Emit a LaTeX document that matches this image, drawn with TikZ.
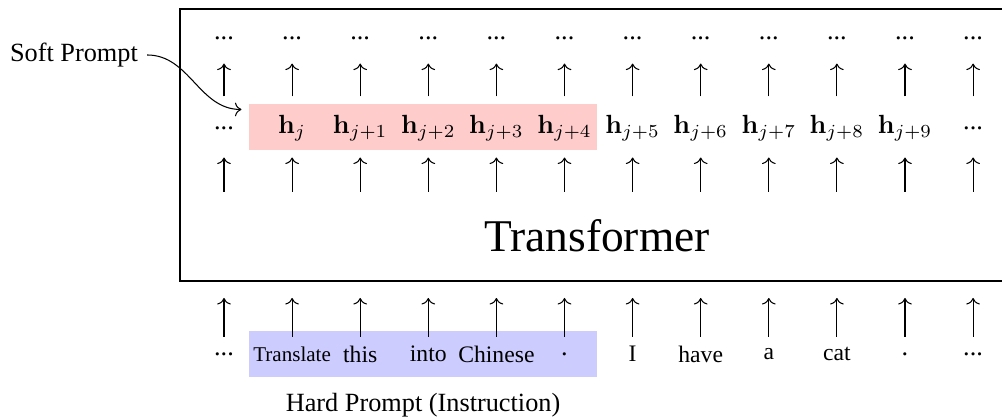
\documentclass[tikz,border=0pt]{standalone}
\usepackage[no-math]{fontspec}
\setmainfont{Liberation Serif}
\usepackage{amsmath}
\usetikzlibrary{positioning, arrows.meta, calc}

\begin{document}
\begin{tikzpicture}
    \tikzset{
        token/.style={inner sep=1pt, minimum height=0.45cm, anchor=center},
        prompt box/.style={minimum width=4.653cm, minimum height=0.615cm, inner sep=0pt, draw=none},
        word/.style={token, font=\small}
    }
    \useasboundingbox (0,0) rectangle (13.397,-5.589);

    % prompt highlights
    \node[prompt box, fill=red!20] (softbox) at (5.656,-1.698) {};
    \node[prompt box, fill=blue!20] (hardbox) at (5.656,-4.733) {};

    % transformer block
    \node[draw, thick, minimum width=11.16cm, minimum height=3.637cm, inner sep=0pt] (encoder) at (7.987,-1.938) {};
    \node[font=\LARGE] (enclabel) at (7.982,-3.155) {Transformer};

    \foreach \i/\h/\w in {1/{...}/{\normalsize ...},
                          2/{$\mathbf{h}_j$}/{\footnotesize Translate},
                          3/{$\mathbf{h}_{j+1}$}/{this},
                          4/{$\mathbf{h}_{j+2}$}/{into},
                          5/{$\mathbf{h}_{j+3}$}/{Chinese},
                          6/{$\mathbf{h}_{j+4}$}/{\normalsize .},
                          7/{$\mathbf{h}_{j+5}$}/{I},
                          8/{$\mathbf{h}_{j+6}$}/{have},
                          9/{$\mathbf{h}_{j+7}$}/{a},
                          10/{$\mathbf{h}_{j+8}$}/{cat},
                          11/{$\mathbf{h}_{j+9}$}/{\normalsize .},
                          12/{...}/{\normalsize ...}} {
        \pgfmathsetmacro{\xx}{2.995+(\i-1)*0.9105}
        \node[token] (top-\i) at (\xx,-0.508) {...};
        \node[token] (hid-\i) at (\xx,-1.711) {\h};
        \node[word] (in-\i) at (\xx,-4.733) {\w};
        \coordinate (mid-\i) at (\xx,-2.567);
        \coordinate (out-\i) at (\xx,-3.984);
        \draw[->, shorten <=0.19cm, shorten >=0.11cm] (hid-\i) -- (top-\i);
        \draw[->, shorten >=0.163cm] (mid-\i) -- (hid-\i);
        \draw[->] (in-\i) -- (out-\i);
    }

    % labels
    \node (softlabel) at (0.989,-0.735) {Soft Prompt};
    \draw[->] (softlabel.east) to[out=0, in=180] ([shift={(-0.094,-0.080)}]softbox.north west);
    \node (hardlabel) at (5.656,-5.415) {Hard Prompt (Instruction)};
\end{tikzpicture}
\end{document}
